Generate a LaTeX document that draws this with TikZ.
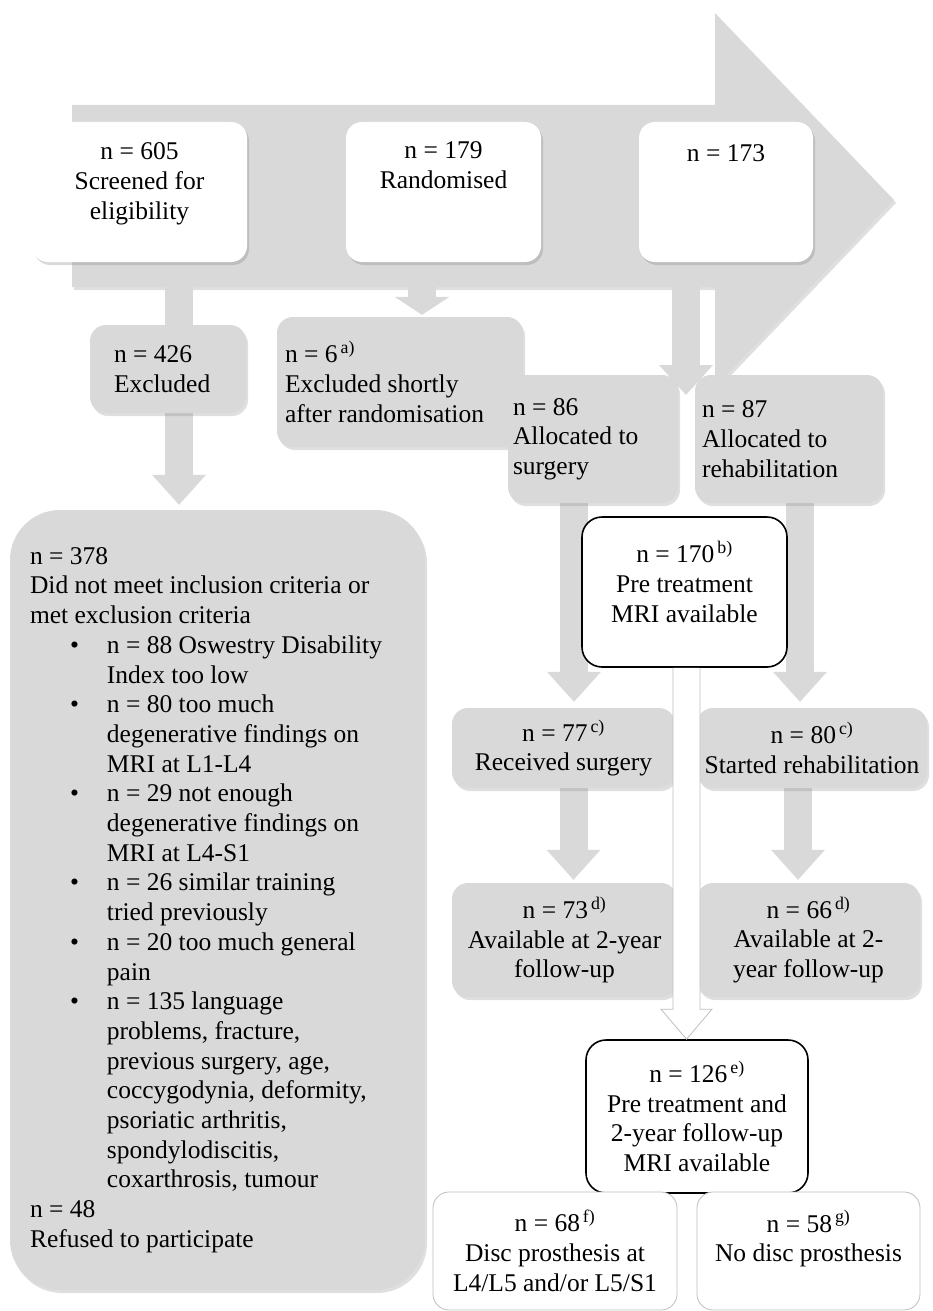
\documentclass[tikz,border=0pt]{standalone}
\usepackage{fontspec}
\setmainfont{Liberation Serif}
\usepackage{xcolor}
\usetikzlibrary{shapes,arrows.meta,positioning,shadows,backgrounds,calc}

\definecolor{boxgrey}{RGB}{217,217,217}
\definecolor{edgegrey}{RGB}{190,190,190}
\newcommand{\crbul}{\hspace*{40pt}\makebox[37pt][l]{\textbullet}}
\newcommand{\crind}{\hspace*{77pt}}

\begin{document}
\begin{tikzpicture}[x=1pt, y=-1pt, font=\fontsize{25.5}{29.7}\selectfont]
\tikzstyle{whitebox} = [rectangle, rounded corners=16pt, fill=white, drop shadow={opacity=0.3, shadow xshift=2pt, shadow yshift=-3pt}]
\tikzstyle{greybox} = [rectangle, rounded corners=16pt, fill=boxgrey, drop shadow={opacity=0.25, shadow xshift=2pt, shadow yshift=-3pt}]
\tikzstyle{mribox} = [rectangle, rounded corners=20pt, draw=black, line width=1.6pt, fill=white]
\tikzstyle{endbox} = [rectangle, rounded corners=16pt, draw=edgegrey, line width=0.8pt, fill=white]
\tikzstyle{boxtext} = [inner sep=0pt, align=center, anchor=north]
\tikzstyle{fat} = [draw=boxgrey, line width=28pt, -{Triangle[width=54pt, length=30pt, line width=0pt]}]
\tikzstyle{outarrow} = [draw=edgegrey, line width=0.8pt, fill=white]

\useasboundingbox (0,0) rectangle (933,1311);

% top row
\node [whitebox, minimum width=215pt, minimum height=140pt] (scr) at (139.5,192) {};
\node [boxtext] (scr-t) at ([yshift=-21pt]scr.north) {n = 605\\Screened for\\eligibility};
\node [whitebox, minimum width=195pt, minimum height=140pt] (rnd) at (443.5,192) {};
\node [boxtext] (rnd-t) at ([yshift=-20pt]rnd.north) {n = 179\\Randomised};
\node [whitebox, minimum width=174pt, minimum height=140pt] (alc) at (726,192) {};
\node [boxtext] (alc-t) at ([yshift=-23pt]alc.north) {n = 173};

% exclusions
\node [greybox, text width=108pt, inner xsep=24pt, align=flush left, minimum height=88pt] (ex426) at (168,369) {n = 426\\Excluded};
\node [greybox, text width=230pt, inner xsep=8pt, align=flush left, minimum height=130pt] (ex6) at (400,382) {n = 6\textsuperscript{\,a)}\\Excluded shortly\\after randomisation};
\node [greybox, rounded corners=50pt, text width=375pt, inner xsep=20pt, align=flush left, minimum height=780pt] (ex378) at (217.5,900) {n = 378\\
Did not meet inclusion criteria or\\
met exclusion criteria\\
\crbul n = 88 Oswestry Disability\\
\crind Index too low\\
\crbul n = 80 too much\\
\crind degenerative findings on\\
\crind MRI at L1-L4\\
\crbul n = 29 not enough\\
\crind degenerative findings on\\
\crind MRI at L4-S1\\
\crbul n = 26 similar training\\
\crind tried previously\\
\crbul n = 20 too much general\\
\crind pain\\
\crbul n = 135 language\\
\crind problems, fracture,\\
\crind previous surgery, age,\\
\crind coccygodynia, deformity,\\
\crind psoriatic arthritis,\\
\crind spondylodiscitis,\\
\crind coxarthrosis, tumour\\
n = 48\\
Refused to participate};

% allocation
\node [greybox, text width=160pt, inner xsep=5pt, align=flush left, minimum height=128pt] (surg86) at (593,439) {n = 86\\Allocated to\\surgery};
\node [greybox, text width=174pt, inner xsep=7pt, align=flush left, minimum height=128pt] (rehab87) at (789,439) {n = 87\\Allocated to\\rehabilitation};
\node [mribox, minimum width=205pt, minimum height=150pt] (mri170) at (684.5,592) {};
\node [boxtext] (mri170-t) at ([yshift=-25pt]mri170.north) {n = 170\textsuperscript{\,b)}\\Pre treatment\\MRI available};

% treatment and follow-up
\node [greybox, align=center, minimum width=223pt, minimum height=80pt] (rec77) at (563.5,748) {n = 77\textsuperscript{\,c)}\\Received surgery};
\node [greybox, align=center, minimum width=230pt, minimum height=80pt] (sta80) at (812,748) {n = 80\textsuperscript{\,c)}\\Started rehabilitation};
\node [greybox, align=center, minimum width=225pt, minimum height=114pt] (fu73) at (564.5,940) {n = 73\textsuperscript{\,d)}\\Available at 2-year\\follow-up};
\node [greybox, align=center, minimum width=223pt, minimum height=114pt] (fu66) at (808.5,940) {n = 66\textsuperscript{\,d)}\\Available at 2-\\year follow-up};
\node [mribox, align=center, minimum width=222pt, minimum height=153pt] (mri126) at (697,1116.5) {n = 126\textsuperscript{\,e)}\\Pre treatment and\\2-year follow-up\\MRI available};
\node [endbox, align=center, minimum width=244pt, minimum height=118pt] (pro68) at (555,1251) {n = 68\textsuperscript{\,f)}\\Disc prosthesis at\\L4/L5 and/or L5/S1};
\node [endbox, align=center, minimum width=223pt, minimum height=118pt] (nop58) at (808.5,1251) {n = 58\textsuperscript{\,g)}\\No disc prosthesis\\\mbox{}};

\coordinate (c605) at (179,287);
\coordinate (c179) at (422,287);
\coordinate (c173) at (686,258);
\coordinate (split) at (686,395);

\begin{scope}[on background layer]
% big flow arrow
\fill [boxgrey, drop shadow={opacity=0.25, shadow xshift=2pt, shadow yshift=-3pt}] (72,105) -- (715,105) -- (715,13) -- (894,200) -- (715,387) -- (715,287) -- (72,287) -- cycle;
\draw [fat, shorten >=5pt] (c605) -- (c605 |- ex378.north);
\draw [fat, -{Triangle[width=55pt, length=18pt, line width=0pt]}, shorten >=2pt] (c179) -- (c179 |- ex6.north);
\draw [fat] (c173) -- (split);
\draw [fat, shorten >=6pt] ([xshift=-19pt]surg86.south) -- ([xshift=10.5pt]rec77.north);
\draw [fat, shorten >=6pt] ([xshift=11pt]rehab87.south) -- ([xshift=-12pt]sta80.north);
\draw [fat, shorten >=3pt] ([xshift=10pt]rec77.south) -- ([xshift=9pt]fu73.north);
\draw [fat, shorten >=3pt] ([xshift=-14pt]sta80.south) -- ([xshift=-10.5pt]fu66.north);
\end{scope}

\coordinate (topmri) at ([xshift=2pt]mri170.south);
\coordinate (tipmri) at ([xshift=-10.5pt]mri126.north);
\draw [outarrow] ($(topmri)+(-13.5,0)$) -- ($(tipmri)+(-13.5,-30)$) -- ($(tipmri)+(-25.5,-30)$) -- (tipmri) -- ($(tipmri)+(25.5,-30)$) -- ($(tipmri)+(13.5,-30)$) -- ($(topmri)+(13.5,0)$);

\end{tikzpicture}
\end{document}
